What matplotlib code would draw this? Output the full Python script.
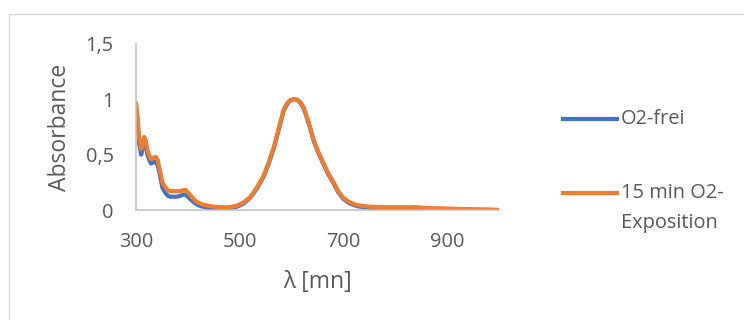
import matplotlib.pyplot as plt
from matplotlib.lines import Line2D
from matplotlib.patches import Rectangle

# wavelength [nm] and absorbance
wl = [300, 302, 306, 310, 313, 316, 319, 322, 326, 329, 333, 338, 342, 345, 351,
      356, 361, 366, 372, 380, 386, 392, 396, 402, 409, 417, 425, 437, 450, 463,
      476, 486, 495, 508, 521, 534, 546, 556, 566, 576, 585, 592, 597, 603, 608,
      613, 618, 623, 627, 635, 643, 652, 662, 671, 681, 690, 700, 712, 726, 740,
      752, 766, 780, 805, 832, 840, 848, 870, 906, 930, 950, 975, 1000]

a_o2frei = [0.93, 0.86, 0.60, 0.50, 0.56, 0.62, 0.58, 0.50, 0.45, 0.42, 0.43, 0.44,
            0.40, 0.34, 0.20, 0.16, 0.13, 0.12, 0.12, 0.12, 0.13, 0.14, 0.14, 0.11,
            0.08, 0.05, 0.035, 0.02, 0.015, 0.013, 0.015, 0.02, 0.03, 0.06, 0.115,
            0.20, 0.30, 0.42, 0.56, 0.74, 0.90, 0.96, 0.99, 1.00, 1.00, 0.99, 0.96,
            0.92, 0.87, 0.75, 0.62, 0.51, 0.41, 0.32, 0.24, 0.16, 0.10, 0.06, 0.035,
            0.025, 0.02, 0.017, 0.015, 0.013, 0.012, 0.011, 0.01, 0.009, 0.008,
            0.006, 0.004, 0.002, 0.0]

a_15min = [0.97, 0.90, 0.66, 0.55, 0.61, 0.66, 0.62, 0.54, 0.49, 0.46, 0.47, 0.48,
           0.45, 0.38, 0.25, 0.21, 0.18, 0.17, 0.17, 0.17, 0.17, 0.18, 0.18, 0.15,
           0.11, 0.075, 0.055, 0.04, 0.03, 0.026, 0.025, 0.03, 0.04, 0.07, 0.12,
           0.21, 0.31, 0.43, 0.57, 0.75, 0.91, 0.97, 0.99, 1.00, 1.00, 0.99, 0.97,
           0.93, 0.88, 0.76, 0.63, 0.52, 0.42, 0.33, 0.25, 0.17, 0.11, 0.07, 0.045,
           0.035, 0.03, 0.027, 0.025, 0.025, 0.025, 0.027, 0.022, 0.017, 0.012,
           0.008, 0.005, 0.003, 0.0]

labels = [["O2-frei"], ["15 min O2-", "Exposition"]]
colors = ["#4472C4", "#ED7D31"]
grey = "#595959"

plt.rcParams['font.family'] = ['Open Sans', 'DejaVu Sans']

fig = plt.figure(figsize=(7.44, 3.2), dpi=100)
ax = fig.add_axes([136 / 744, 1 - 210 / 320, (499 - 136) / 744, (210 - 44) / 320])

ax.plot(wl, a_o2frei, color=colors[0], lw=3.0, solid_capstyle='round')
ax.plot(wl, a_15min, color=colors[1], lw=3.0, solid_capstyle='round')

ax.set_xlim(300, 1000)
ax.set_ylim(0, 1.5)
ax.set_xticks([300, 500, 700, 900])
ax.set_yticks([0, 0.5, 1, 1.5])
ax.set_yticklabels(["0", "0,5", "1", "1,5"])

for s in ['top', 'right']:
    ax.spines[s].set_visible(False)
for s in ['left', 'bottom']:
    ax.spines[s].set_color("#BFBFBF")
    ax.spines[s].set_linewidth(1.1)
ax.tick_params(length=0, labelsize=14.4, colors=grey)
ax.tick_params(axis='x', pad=16)
ax.tick_params(axis='y', pad=16)

ax.set_xlabel("λ [mn]", fontsize=16.5, color=grey, labelpad=13)
ax.set_ylabel("Absorbance", fontsize=16.5, color=grey, labelpad=10)

# legend drawn by hand so the handle sits on the first text line
leg_y = [119, 193]
for lines, col, y in zip(labels, colors, leg_y):
    yf = 1 - y / 320
    fig.add_artist(Line2D([563 / 744, 617 / 744], [yf, yf], color=col, lw=3.0,
                          transform=fig.transFigure))
    for i, txt in enumerate(lines):
        fig.text(621 / 744, 1 - (y + 30 * i) / 320, txt, fontsize=14.4, color=grey,
                 va='center', transform=fig.transFigure)

# chart border (cropped on right and bottom)
fig.add_artist(Rectangle((9 / 744, -0.1), 1.0, 1 - 14 / 320 + 0.1, fill=False,
                         edgecolor="#D9D9D9", lw=1.0, transform=fig.transFigure))

fig.savefig("out.png", dpi=100)
